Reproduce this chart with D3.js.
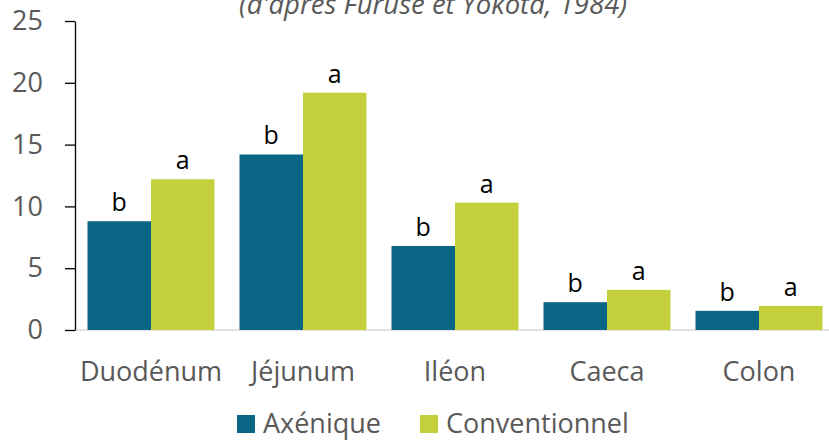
<!DOCTYPE html>
<html>
<head>
<meta charset="utf-8">
<script src="https://cdn.jsdelivr.net/npm/d3@7"></script>
<style>
  body { margin: 0; background: #fff; }
  text { font-family: "Open Sans", sans-serif; }
</style>
</head>
<body>
<div class="container"></div>
<script>
const categories = ['Duodénum', 'Jéjunum', 'Iléon', 'Caeca', 'Colon']
const axenique = [8.8, 14.2, 6.8, 2.25, 1.55]
const conventionnel = [12.2, 19.2, 10.3, 3.25, 1.95]
const axeniqueLetters = ['b', 'b', 'b', 'b', 'b']
const conventionnelLetters = ['a', 'a', 'a', 'a', 'a']
const yTicks = [0, 5, 10, 15, 20, 25]
const seriesNames = ['Axénique', 'Conventionnel']

const width = 829
const height = 441
const colors = ['#0b6685', '#c3d03b']

const svg = d3.select('.container')
    .append('svg')
    .attr('width', width)
    .attr('height', height)

// title, partly cut off at the top
svg.append('text')
    .attr('x', 433)
    .attr('y', 14)
    .attr('text-anchor', 'middle')
    .style('font-size', '27.5px')
    .style('font-style', 'italic')
    .style('fill', '#595959')
    .text("(d'après Furuse et Yokota, 1984)")

const scaleX = d3.scaleBand()
    .domain(categories)
    .range([75, 835])
    .paddingInner(25 / 152)
    .paddingOuter(12.5 / 152)

const scaleSeries = d3.scaleBand()
    .domain(seriesNames)
    .range([0, scaleX.bandwidth()])

const scaleY = d3.scaleLinear()
    .domain([0, 25])
    .range([330, 21])

// baseline
svg.append('line')
    .attr('x1', 75)
    .attr('x2', 829)
    .attr('y1', scaleY(0))
    .attr('y2', scaleY(0))
    .style('stroke', '#d9d9d9')
    .style('stroke-width', 1.5)

const y_axis = d3.axisLeft()
    .scale(scaleY)
    .tickValues(yTicks)
    .tickSizeInner(10)
    .tickSizeOuter(0)
    .tickPadding(22)

const yAxisG = svg.append('g')
    .attr('transform', 'translate(75, 0)')
    .call(y_axis)

yAxisG.select('.domain').style('stroke', '#000').style('stroke-width', 1.3)
yAxisG.selectAll('.tick line').style('stroke', '#000').style('stroke-width', 1.3)
yAxisG.selectAll('.tick text')
    .style('font-size', '27px')
    .style('fill', '#595959')
    .style('font-family', '"Open Sans", sans-serif')

const series = [
    { name: seriesNames[0], values: axenique, letters: axeniqueLetters },
    { name: seriesNames[1], values: conventionnel, letters: conventionnelLetters }
]

series.forEach((s, si) => {
    svg.selectAll('rect.s' + si)
        .data(s.values)
        .enter()
        .append('rect')
        .attr('class', 's' + si)
        .attr('x', (d, i) => scaleX(categories[i]) + scaleSeries(s.name))
        .attr('y', d => scaleY(d))
        .attr('width', scaleSeries.bandwidth())
        .attr('height', d => scaleY(0) - scaleY(d))
        .style('fill', colors[si])

    svg.selectAll('text.l' + si)
        .data(s.values)
        .enter()
        .append('text')
        .attr('class', 'l' + si)
        .attr('x', (d, i) => scaleX(categories[i]) + scaleSeries(s.name) + scaleSeries.bandwidth() / 2)
        .attr('y', d => scaleY(d) - 10)
        .attr('text-anchor', 'middle')
        .style('font-size', '25px')
        .style('fill', '#000')
        .text((d, i) => s.letters[i])
})

// category labels
svg.selectAll('text.cat')
    .data(categories)
    .enter()
    .append('text')
    .attr('class', 'cat')
    .attr('x', d => scaleX(d) + scaleX.bandwidth() / 2)
    .attr('y', 381)
    .attr('text-anchor', 'middle')
    .style('font-size', '27px')
    .style('fill', '#595959')
    .text(d => d)

// legend
const legendX = [237, 420]
const legend = svg.selectAll('g.legend')
    .data(seriesNames)
    .enter()
    .append('g')
    .attr('class', 'legend')
    .attr('transform', (d, i) => 'translate(' + legendX[i] + ', 415)')

legend.append('rect')
    .attr('width', 18)
    .attr('height', 18)
    .style('fill', (d, i) => colors[i])

legend.append('text')
    .attr('x', 26)
    .attr('y', 18)
    .style('font-size', '27px')
    .style('fill', '#595959')
    .text(d => d)
</script>
</body>
</html>
